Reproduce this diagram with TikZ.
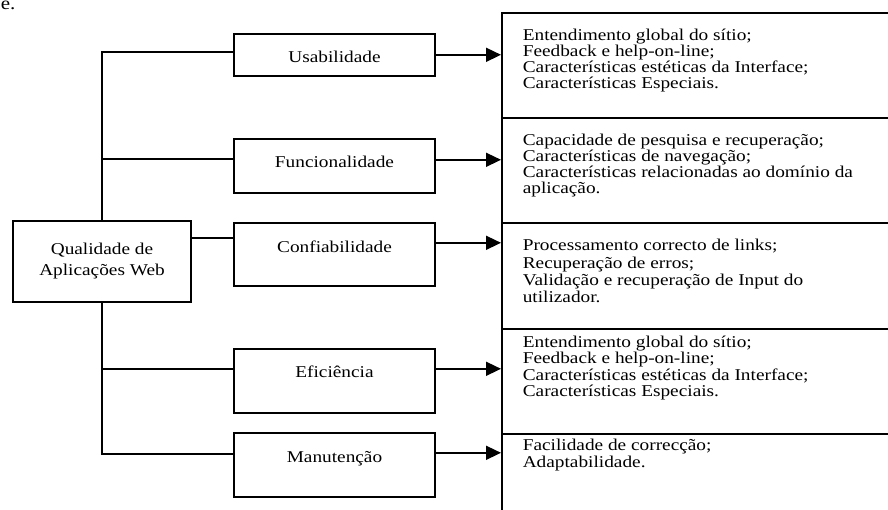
\documentclass[tikz,border=0pt]{standalone}
\usepackage{fontspec}
\setmainfont[FakeStretch=1.17]{Liberation Serif}
\usetikzlibrary{arrows.meta,calc}
\newcommand\mytxt{\fontsize{16.5}{16.3}\selectfont\lineskiplimit=-30pt\relax}
\newcommand\mytxtb{\fontsize{16.5}{17.3}\selectfont\lineskiplimit=-30pt\relax}
\newcommand\topstrut{\rule{0pt}{14pt}}
\begin{document}
\begin{tikzpicture}[x=1pt,y=-1pt,line width=1.6pt,line join=miter,
  mainbox/.style={draw,rectangle,inner sep=0pt,align=center,minimum width=178pt,minimum height=81pt,font=\fontsize{16.5}{21}\selectfont},
  midbox/.style={draw,rectangle,inner sep=0pt,minimum width=201pt,anchor=north,font=\mytxt},
  rbox/.style={draw,rectangle,inner sep=0pt,anchor=north west,minimum width=420pt},
  rtext/.style={anchor=north west,inner sep=0pt,align=left,font=\mytxt},
  arr/.style={-{Triangle[length=15pt,width=14pt]}}]
\path[use as bounding box] (0,0) rectangle (888,510);
\clip (0,0) rectangle (888,510);

\node[anchor=base west,inner sep=0pt,font=\fontsize{18}{18}\selectfont] (frag) at (0,10) {e.};

% main box
\node[mainbox] (q) at (102,261.5) {Qualidade de\\Aplicações Web};

% middle boxes
\node[midbox,text height=28.5pt,text depth=13.5pt] (u) at (334.5,33) {Usabilidade};
\node[midbox,text height=28.5pt,text depth=25.5pt] (f) at (334.5,138) {Funcionalidade};
\node[midbox,text height=29.5pt,text depth=33.5pt] (c) at (334.5,222) {Confiabilidade};
\node[midbox,text height=28.5pt,text depth=35.5pt] (e) at (334.5,348) {Eficiência};
\node[midbox,text height=29.5pt,text depth=34.5pt] (m) at (334.5,432) {Manutenção};

% right boxes
\node[rbox,minimum height=104.5pt] (r1) at (501,12.5) {};
\node[rbox,minimum height=105pt] (r2) at (501,117) {};
\node[rbox,minimum height=106pt] (r3) at (501,222) {};
\node[rbox,minimum height=105pt] (r4) at (501,328) {};
\node[rbox,minimum height=100pt] (r5) at (501,433) {};

\node[rtext] (t1) at (522,25.3) {\topstrut Entendimento global do sítio;\\Feedback e help-on-line;\\Características estéticas da Interface;\\Características Especiais.};
\node[rtext] (t2) at (522,130.3) {\topstrut Capacidade de pesquisa e recuperação;\\Características de navegação;\\Características relacionadas ao domínio da\\aplicação.};
\node[rtext,font=\mytxtb] (t3) at (522,236) {\topstrut Processamento correcto de links;\\Recuperação de erros;\\Validação e recuperação de Input do\\utilizador.};
\node[rtext] (t4) at (522,332.7) {\topstrut Entendimento global do sítio;\\Feedback e help-on-line;\\Características estéticas da Interface;\\Características Especiais.};
\node[rtext] (t5) at (522,436) {\topstrut Facilidade de correcção;\\Adaptabilidade.};

% connector points
\coordinate (uin) at ($(u.west)+(0,-3)$);
\coordinate (fin) at ($(f.west)+(0,-7)$);
\coordinate (cin) at ($(c.west)+(0,-16.5)$);
\coordinate (ein) at ($(e.west)+(0,-12)$);
\coordinate (min) at ($(m.west)+(0,-11)$);
\coordinate (uout) at (u.east);
\coordinate (fout) at ($(f.east)+(0,-6)$);
\coordinate (cout) at ($(c.east)+(0,-11.5)$);
\coordinate (eout) at ($(e.east)+(0,-12)$);
\coordinate (mout) at ($(m.east)+(0,-12)$);

% tree connectors
\draw (q.north) -- (q.north |- uin) -- (uin);
\draw (q.north |- fin) -- (fin);
\draw (q.east |- cin) -- (cin);
\draw (q.south) -- (q.south |- min) -- (min);
\draw (q.south |- ein) -- (ein);

% arrows
\draw[arr] (uout) -- (uout -| r1.west);
\draw[arr] (fout) -- (fout -| r2.west);
\draw[arr] (cout) -- (cout -| r3.west);
\draw[arr] (eout) -- (eout -| r4.west);
\draw[arr] (mout) -- (mout -| r5.west);
\end{tikzpicture}
\end{document}
